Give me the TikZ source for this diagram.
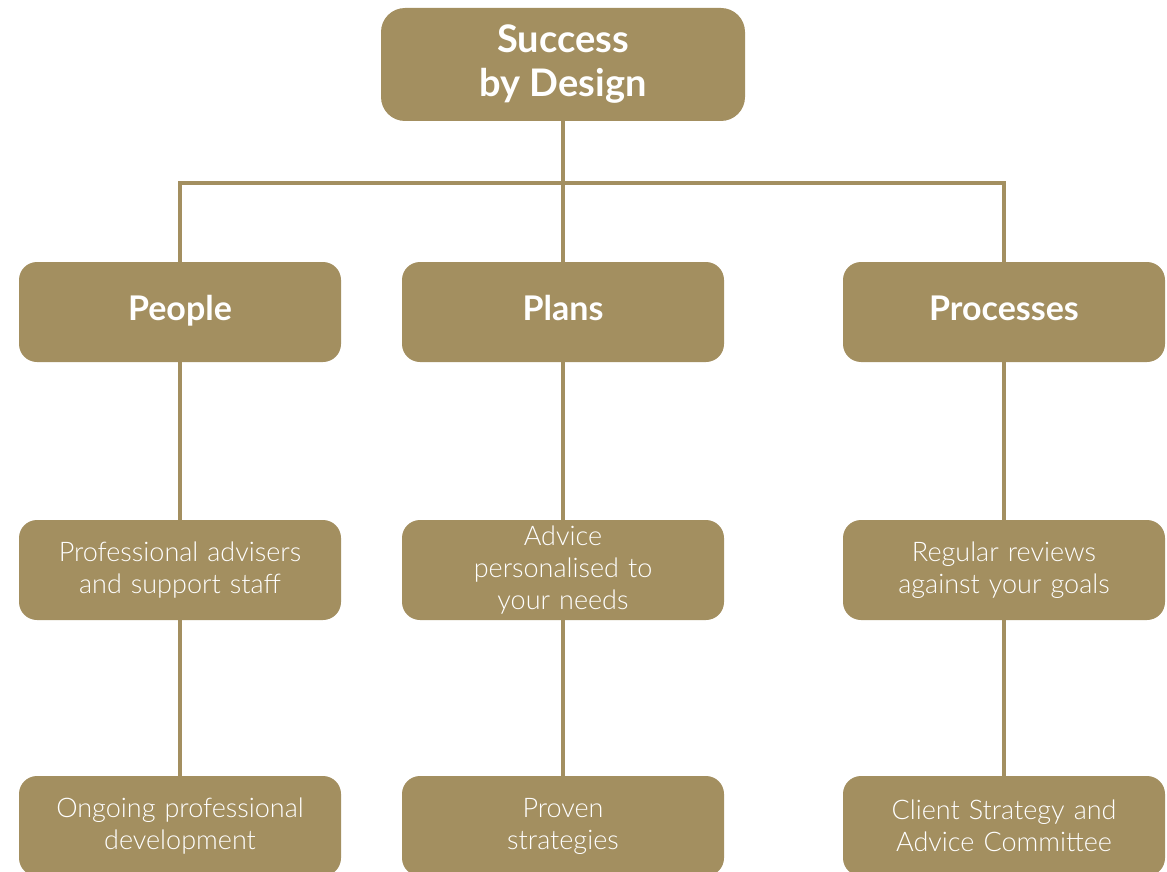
\documentclass[tikz,border=0pt]{standalone}
\usepackage{fontspec}
\setmainfont{Lato}
\newfontfamily\lightfont{Lato Light}
\definecolor{gold}{HTML}{A38F60}
\begin{document}
\begin{tikzpicture}[x=1pt,y=-1pt,
  box/.style={fill=gold, rounded corners=18pt, minimum width=322pt, minimum height=100pt, inner sep=0pt, text=white, align=center},
  head/.style={box, text height=24pt, text depth=7pt, font=\fontsize{34}{40}\selectfont\bfseries},
  body/.style={box, text width=310pt, font=\lightfont\fontsize{27}{32}\selectfont},
  link/.style={draw=gold, line width=4.5pt, line cap=rect}]
\useasboundingbox (0,0) rectangle (1167,872);
\clip (0,0) rectangle (1167,872);
\coordinate (hub) at (563,183);
\coordinate (hl) at (180,183);
\coordinate (hr) at (1004,183);
\node[box, minimum width=364pt, minimum height=113pt, rounded corners=24pt, font=\fontsize{38}{44}\selectfont\bfseries] (top) at (563,64.5) {Success\\by Design};
\node[head] (people) at (180,312) {People};
\node[head] (plans) at (563,312) {Plans};
\node[head] (proc) at (1004,312) {Processes};
\node[body] (p2) at (180,570) {Professional advisers\\and support staff};
\node[body] (l2) at (563,570) {Advice\\personalised to\\your needs};
\node[body] (r2) at (1004,570) {Regular reviews\\against your goals};
\node[body] (p3) at (180,826) {Ongoing professional\\development};
\node[body] (l3) at (563,826) {Proven\\strategies};
\node[body] (r3) at (1004,826) {Client Strategy and\\Advice Committee};
\path[link] (top.south) -- (hub);
\path[link] (hl) -- (hr);
\path[link] (hl) -- (people.north);
\path[link] (hub) -- (plans.north);
\path[link] (hr) -- (proc.north);
\path[link] (people.south) -- (p2.north);
\path[link] (p2.south) -- (p3.north);
\path[link] (plans.south) -- (l2.north);
\path[link] (l2.south) -- (l3.north);
\path[link] (proc.south) -- (r2.north);
\path[link] (r2.south) -- (r3.north);
\end{tikzpicture}
\end{document}
